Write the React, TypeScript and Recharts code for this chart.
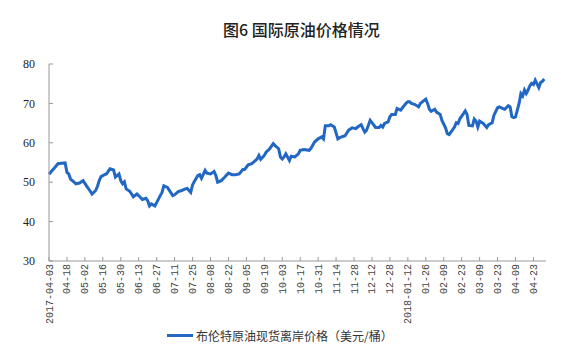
import { LineChart, Line, XAxis, YAxis } from 'recharts';

// trading-day offset from 2017-04-03
const days = [
  0, 2, 3, 5, 7, 9, 10, 11, 12, 14, 15, 17, 19, 21, 23, 24, 26, 27, 28, 29,
  31, 32, 34, 36, 37, 39, 40, 41, 42, 43, 45, 47, 49, 50, 52, 54, 55, 56, 57, 59,
  61, 62, 63, 64, 66, 67, 68, 69, 70, 72, 74, 76, 77, 79, 80, 81, 83, 84, 85, 87,
  88, 90, 92, 93, 94, 96, 98, 100, 102, 104, 106, 108, 109, 110, 111, 113, 114, 116, 117, 118,
  120, 121, 123, 125, 126, 128, 129, 130, 131, 132, 134, 135, 137, 139, 140, 142, 145, 146, 148, 150,
  152, 153, 154, 156, 157, 159, 161, 162, 165, 167, 169, 171, 172, 174, 175, 176, 177, 179, 180, 182,
  184, 185, 186, 187, 189, 190, 191, 193, 194, 196, 197, 199, 200, 201, 202, 204, 206, 207, 208, 210,
  211, 212, 213, 215, 216, 218, 219, 221, 222, 223, 224, 226, 227, 228, 229, 231, 232, 233, 234, 236,
  237, 238, 239, 240, 242, 243, 244, 245, 247, 248, 250, 251, 253, 254, 256, 257, 258, 259, 260, 262,
  263, 264, 265, 266, 267, 268, 269, 270, 271, 273, 274, 275, 276,
];

// Brent spot price, USD/bbl
const brent = [
  52.0, 53.1, 53.6, 54.7, 54.8, 54.9, 52.5, 52.1, 50.8, 50.0, 49.6, 49.8, 50.4, 49.0, 47.7, 47.0, 47.9, 48.9, 50.4, 51.4,
  51.9, 52.1, 53.4, 53.1, 51.3, 52.1, 50.4, 49.6, 50.1, 48.3, 47.7, 46.3, 47.0, 46.6, 45.6, 45.9, 45.3, 44.0, 44.5, 44.0,
  45.7, 46.6, 47.4, 49.1, 48.7, 48.0, 47.3, 46.6, 46.8, 47.6, 47.9, 48.3, 48.4, 47.4, 49.3, 50.2, 51.7, 51.9, 51.0, 53.0,
  52.3, 52.1, 52.7, 51.7, 50.0, 50.4, 51.3, 52.3, 51.9, 51.9, 52.1, 53.2, 53.2, 53.8, 54.4, 54.7, 55.1, 55.9, 56.8, 55.8,
  56.8, 57.6, 58.5, 59.8, 59.3, 58.5, 56.4, 55.9, 56.4, 57.2, 55.5, 56.6, 56.4, 57.2, 58.1, 58.3, 58.1, 58.6, 60.2, 61.0,
  61.5, 61.0, 64.3, 64.3, 64.6, 64.0, 61.0, 61.3, 61.8, 63.2, 63.8, 63.6, 64.0, 64.6, 63.6, 62.7, 63.2, 65.7, 65.1, 63.9,
  63.9, 64.4, 64.0, 64.9, 65.3, 66.6, 67.2, 67.2, 68.7, 68.3, 68.9, 70.0, 70.4, 70.4, 70.0, 69.7, 69.1, 70.0, 70.4, 71.1,
  70.0, 68.5, 68.0, 68.5, 67.8, 67.2, 65.7, 63.8, 62.3, 62.1, 62.7, 64.0, 65.1, 64.9, 66.1, 67.4, 68.1, 67.2, 64.4, 64.3,
  66.0, 65.5, 64.0, 65.5, 64.9, 64.4, 63.9, 64.6, 65.1, 67.0, 68.9, 69.1, 68.7, 68.5, 69.4, 69.1, 66.6, 66.4, 66.6, 70.0,
  72.5, 71.9, 73.4, 72.5, 73.4, 74.5, 75.1, 74.8, 75.9, 74.0, 75.3, 75.6, 76.2,
];

const tickLabels = [
  '2017-04-03', '04-18', '05-02', '05-16', '05-30', '06-13', '06-27', '07-11', '07-25', '08-08',
  '08-22', '09-05', '09-19', '10-03', '10-17', '10-31', '11-14', '11-28', '12-12', '12-28',
  '2018-01-12', '01-26', '02-09', '02-23', '03-09', '03-23', '04-09', '04-23',
];
const tickDays = tickLabels.map((_, i) => i * 10);
const yTicks = [30, 40, 50, 60, 70, 80];

const data = days.map((d, i) => ({ day: d, price: brent[i] }));

const LINE = '#2167C3';

function DateTick({ x, y, payload }: any) {
  const label = tickLabels[Math.round(payload.value / 10)];
  return (
    <text
      x={x}
      y={y}
      dy="0.35em"
      transform={`rotate(-90 ${x} ${y})`}
      textAnchor="end"
      fontSize={10}
      fontFamily="'Liberation Mono', monospace"
      fill="#444"
    >
      {label}
    </text>
  );
}

function PriceTick({ x, y, payload }: any) {
  return (
    <text
      x={x}
      y={y}
      dy="0.35em"
      textAnchor="end"
      fontSize={12}
      fontFamily="'Liberation Serif', serif"
      fill="#222"
    >
      {payload.value}
    </text>
  );
}

export default function App() {
  return (
    <div style={{ position: 'absolute', left: 0, top: 0, width: 561, height: 357, background: '#fff' }}>
      <div
        style={{
          position: 'absolute', left: 223, top: 17, fontSize: 16, fontWeight: 500,
          fontFamily: "'Noto Sans CJK SC', sans-serif", color: '#222', whiteSpace: 'nowrap',
        }}
      >
        图6 国际原油价格情况
      </div>
      <LineChart width={561} height={357} data={data} margin={{ top: 64, right: 15, left: 0, bottom: 0 }}>
        <XAxis
          dataKey="day"
          type="number"
          domain={[0, 277]}
          ticks={tickDays}
          interval={0}
          height={96}
          stroke="#999"
          tickSize={-4}
          tickMargin={7}
          tick={<DateTick />}
        />
        <YAxis
          domain={[30, 80]}
          ticks={yTicks}
          width={49}
          stroke="#999"
          tickSize={-4}
          tickMargin={18}
          tick={<PriceTick />}
        />
        <Line
          type="linear"
          dataKey="price"
          stroke={LINE}
          strokeWidth={3}
          dot={false}
          isAnimationActive={false}
        />
      </LineChart>
      <div
        style={{
          position: 'absolute', left: 167, top: 327, display: 'flex', alignItems: 'center',
          fontSize: 12, fontFamily: "'Noto Sans CJK SC', sans-serif", color: '#333', whiteSpace: 'nowrap',
        }}
      >
        <span style={{ display: 'inline-block', width: 26, height: 3, background: LINE, marginRight: 3 }} />
        布伦特原油现货离岸价格（美元/桶）
      </div>
    </div>
  );
}
